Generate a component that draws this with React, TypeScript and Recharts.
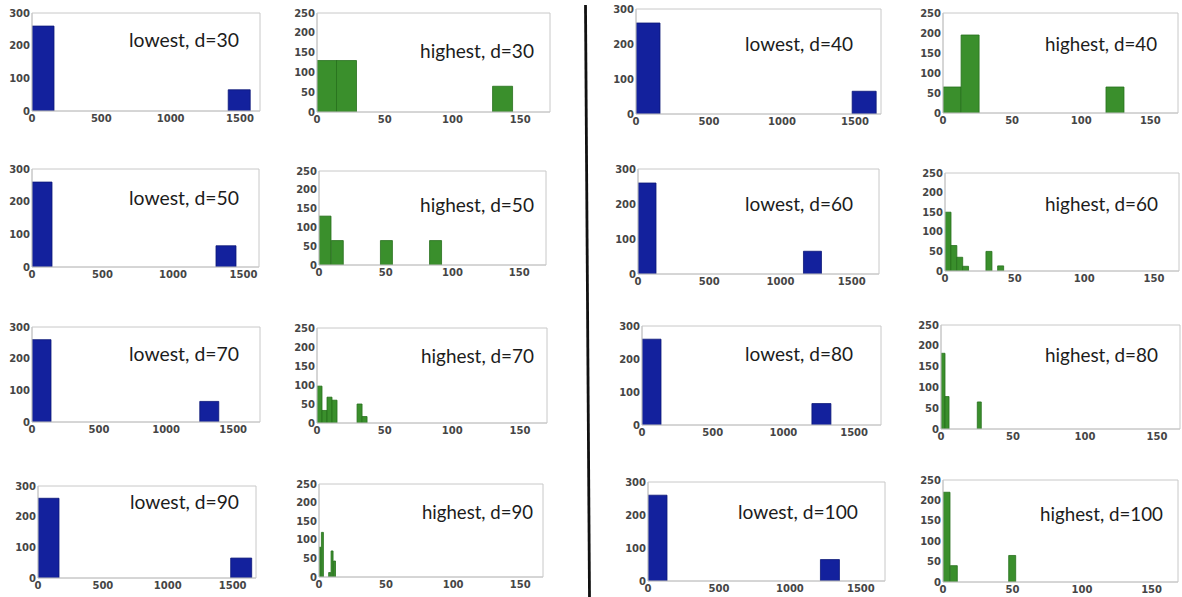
import { BarChart, Bar, XAxis, YAxis, ReferenceArea } from 'recharts'

// axis ticks
const lowTicksX = [0, 500, 1000, 1500]
const lowTicksY = [0, 100, 200, 300]
const highTicksX = [0, 50, 100, 150]
const highTicksY = [0, 50, 100, 150, 200, 250]

// histogram counts, 10 equal bins from 0 to the bin range end
const lowestD30 = [260, 0, 0, 0, 0, 0, 0, 0, 0, 65]
const lowestD40 = [260, 0, 0, 0, 0, 0, 0, 0, 0, 65]
const lowestD50 = [260, 0, 0, 0, 0, 0, 0, 0, 0, 65]
const lowestD60 = [260, 0, 0, 0, 0, 0, 0, 0, 0, 65]
const lowestD70 = [260, 0, 0, 0, 0, 0, 0, 0, 0, 65]
const lowestD80 = [260, 0, 0, 0, 0, 0, 0, 0, 0, 65]
const lowestD90 = [260, 0, 0, 0, 0, 0, 0, 0, 0, 65]
const lowestD100 = [260, 0, 0, 0, 0, 0, 0, 0, 0, 65]

const highestD30 = [130, 130, 0, 0, 0, 0, 0, 0, 0, 65]
const highestD40 = [65, 195, 0, 0, 0, 0, 0, 0, 0, 65]
const highestD50 = [130, 65, 0, 0, 0, 65, 0, 0, 0, 65]
const highestD60 = [150, 65, 35, 12, 0, 0, 0, 50, 0, 13]
const highestD70 = [97, 33, 68, 60, 0, 0, 0, 0, 50, 17]
const highestD80 = [182, 78, 0, 0, 0, 0, 0, 0, 0, 65]
const highestD90 = [80, 120, 0, 0, 12, 70, 43, 0, 0, 0]
const highestD100 = [220, 40, 0, 0, 0, 0, 0, 0, 0, 65]

// bin range end (upper edge of the last bin)
const lowestRange = [1572, 1645, 1450, 1290, 1390, 1335, 1650, 1350]
const highestRange = [144, 131, 92, 42, 37, 28, 18, 52.5]
// x axis upper limits
const lowestXMax = [1644, 1678, 1610, 1691, 1700, 1690, 1680, 1670]
const highestXMax = [172, 170, 170, 168, 170, 166, 167, 169]

const labels = ['d=30', 'd=40', 'd=50', 'd=60', 'd=70', 'd=80', 'd=90', 'd=100']

type Box = [number, number, number, number]

// plot boxes [left, top, right, bottom], order d30, d40, ... d100
const lowBoxes: Box[] = [
  [32, 13, 260, 111],
  [636, 9, 881, 114],
  [32, 169, 259, 267],
  [638, 169, 879, 274],
  [32, 327, 260, 422],
  [642, 326, 881, 425],
  [38, 486, 256, 578],
  [648, 482, 885, 581],
]
const highBoxes: Box[] = [
  [317, 13, 550, 112],
  [943, 13, 1178, 113],
  [319, 171, 546, 265],
  [945, 173, 1179, 271],
  [317, 328, 547, 423],
  [941, 325, 1180, 429],
  [319, 484, 543, 577],
  [943, 480, 1178, 582],
]
// title [left, baseline, width]
const lowTitles = [
  [129, 47, 110], [745, 51, 108], [129, 205, 110], [745, 211, 108],
  [129, 361, 110], [745, 361, 108], [130, 509, 109], [738, 519, 120],
]
const highTitles = [
  [420, 58, 114], [1045, 51, 112], [420, 212, 114], [1045, 211, 113],
  [421, 363, 113], [1045, 362, 113], [422, 519, 111], [1040, 521, 123],
]

const lowCounts = [lowestD30, lowestD40, lowestD50, lowestD60, lowestD70, lowestD80, lowestD90, lowestD100]
const highCounts = [highestD30, highestD40, highestD50, highestD60, highestD70, highestD80, highestD90, highestD100]

const tickStyle = { fontSize: 10, fill: '#454545', fontFamily: 'DejaVu Sans', fontWeight: 'bold' }
const frame = '#c8c8c8'

interface HistProps {
  counts: number[]
  range: number
  xMax: number
  yMax: number
  xTicks: number[]
  yTicks: number[]
  color: string
  edge: string
  box: Box
}

function Hist({ counts, range, xMax, yMax, xTicks, yTicks, color, edge, box }: HistProps) {
  const [l, t, r, b] = box
  const bins = counts.map((c, i) => ({ x: ((i + 0.5) * range) / counts.length, count: c }))
  return (
    <div style={{ position: 'absolute', left: l - 40, top: t - 10 }}>
      <BarChart
        width={r - l + 50}
        height={b - t + 30}
        data={bins}
        margin={{ top: 10, right: 10, bottom: 0, left: 0 }}
        barCategoryGap={0}
        barGap={0}
      >
        <XAxis
          type="number"
          dataKey="x"
          domain={[0, xMax]}
          ticks={xTicks}
          interval={0}
          allowDataOverflow
          height={20}
          tickLine={false}
          tickSize={3}
          tickMargin={1}
          axisLine={{ stroke: frame }}
          tick={tickStyle}
        />
        <YAxis
          type="number"
          domain={[0, yMax]}
          ticks={yTicks}
          interval={0}
          allowDataOverflow
          width={40}
          tickLine={false}
          tickSize={0}
          tickMargin={2}
          axisLine={{ stroke: frame }}
          tick={tickStyle}
        />
        <ReferenceArea x1={0} x2={xMax} y1={0} y2={yMax} fill="none" stroke={frame} />
        <Bar dataKey="count" fill={color} stroke={edge} strokeWidth={0.8} isAnimationActive={false} />
      </BarChart>
    </div>
  )
}

export default function App() {
  return (
    <div style={{ position: 'absolute', left: 0, top: 0, width: 1182, height: 597, background: '#fff', overflow: 'hidden' }}>
      {lowCounts.map((counts, i) => (
        <Hist
          key={'low' + i}
          counts={counts}
          range={lowestRange[i]}
          xMax={lowestXMax[i]}
          yMax={300}
          xTicks={lowTicksX}
          yTicks={lowTicksY}
          color="#13219d"
          edge="#0b1677"
          box={lowBoxes[i]}
        />
      ))}
      {highCounts.map((counts, i) => (
        <Hist
          key={'high' + i}
          counts={counts}
          range={highestRange[i]}
          xMax={highestXMax[i]}
          yMax={250}
          xTicks={highTicksX}
          yTicks={highTicksY}
          color="#3a8f2c"
          edge="#27701d"
          box={highBoxes[i]}
        />
      ))}
      <svg width={1182} height={597} style={{ position: 'absolute', left: 0, top: 0, pointerEvents: 'none' }}>
        <line x1={585.5} y1={5} x2={589.5} y2={597} stroke="#111" strokeWidth={2.8} />
        {lowTitles.map(([x, y, w], i) => (
          <text key={'lt' + i} x={x} y={y} textLength={w} lengthAdjust="spacingAndGlyphs" fontFamily="Lato" fontSize={20} fill="#1c1c1c">
            {'lowest, ' + labels[i]}
          </text>
        ))}
        {highTitles.map(([x, y, w], i) => (
          <text key={'ht' + i} x={x} y={y} textLength={w} lengthAdjust="spacingAndGlyphs" fontFamily="Lato" fontSize={20} fill="#1c1c1c">
            {'highest, ' + labels[i]}
          </text>
        ))}
      </svg>
    </div>
  )
}
